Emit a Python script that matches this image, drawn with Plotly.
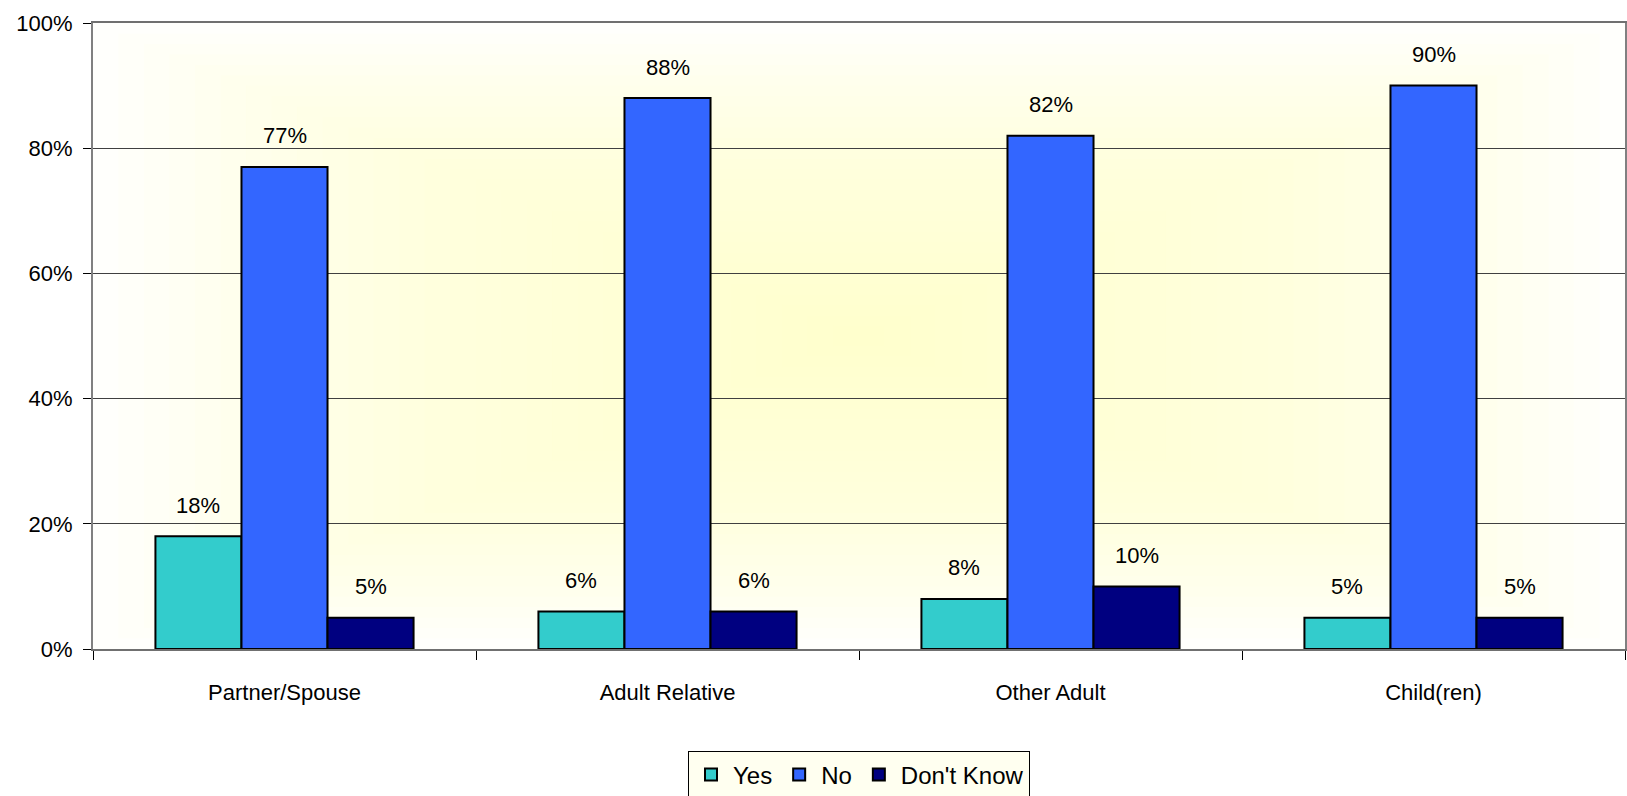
import plotly.graph_objects as go

categories = ["Partner/Spouse", "Adult Relative", "Other Adult", "Child(ren)"]
series_names = ["Yes", "No", "Don't Know"]
yes_vals = [0.18, 0.06, 0.08, 0.05]
no_vals = [0.77, 0.88, 0.82, 0.90]
dk_vals = [0.05, 0.06, 0.10, 0.05]
colors = ["#33CCCC", "#3366FF", "#000080"]

FONT = "Liberation Sans, Arial, sans-serif"
BARGAP = 0.326

fig = go.Figure()
all_vals = [yes_vals, no_vals, dk_vals]
for name, vals, col in zip(series_names, all_vals, colors):
    fig.add_trace(go.Bar(
        name=name, x=categories, y=vals,
        marker=dict(color=col, line=dict(color="black", width=2)),
    ))

# data labels above bars
bw = (1 - BARGAP) / len(all_vals)
annotations = []
for si, vals in enumerate(all_vals):
    off = (si - (len(all_vals) - 1) / 2) * bw
    for ci, v in enumerate(vals):
        annotations.append(dict(
            x=ci + off, y=v, xref="x", yref="y",
            text=f"{round(v*100)}%", showarrow=False,
            yanchor="middle", yshift=31,
            font=dict(family=FONT, size=22, color="black"),
        ))

# rectangular "from center" gradient background
shapes = []
N = 30
for i in range(N):
    f = i / N * 0.5
    shapes.append(dict(
        type="rect", xref="paper", yref="paper",
        x0=f, x1=1 - f, y0=f, y1=1 - f,
        fillcolor="rgb(255,255,200)", opacity=0.06,
        line=dict(width=0), layer="below",
    ))

fig.update_layout(
    width=1627, height=796,
    margin=dict(l=93, r=2, t=23, b=147, autoexpand=False),
    paper_bgcolor="white", plot_bgcolor="white",
    barmode="group", bargap=BARGAP, bargroupgap=0,
    font=dict(family=FONT, size=22, color="black"),
    showlegend=True,
    legend=dict(
        orientation="h", x=0.5, xanchor="center",
        yref="container", y=0.056, yanchor="top",
        bordercolor="black", borderwidth=1, bgcolor="#FFFFF0",
        font=dict(family=FONT, size=24), itemwidth=34,
    ),
    annotations=annotations,
    shapes=shapes,
)
fig.update_xaxes(
    type="category", tickson="boundaries", ticks="outside", ticklen=9,
    tickcolor="black", tickwidth=1,
    showline=True, linecolor="#707070", linewidth=2, mirror=True,
    showgrid=False, ticklabelstandoff=23,
    tickfont=dict(family=FONT, size=22),
)
fig.update_yaxes(
    range=[0, 1], dtick=0.2, tickformat=".0%",
    ticks="outside", ticklen=8, tickcolor="black", tickwidth=1,
    showline=True, linecolor="#808080", linewidth=2, mirror=True,
    showgrid=True, gridcolor="#404040", gridwidth=1,
    zeroline=False, ticklabelstandoff=6,
    tickfont=dict(family=FONT, size=22),
)

fig.write_html("out.html", config={"displayModeBar": False},
               post_script="document.body.style.margin='0';")
